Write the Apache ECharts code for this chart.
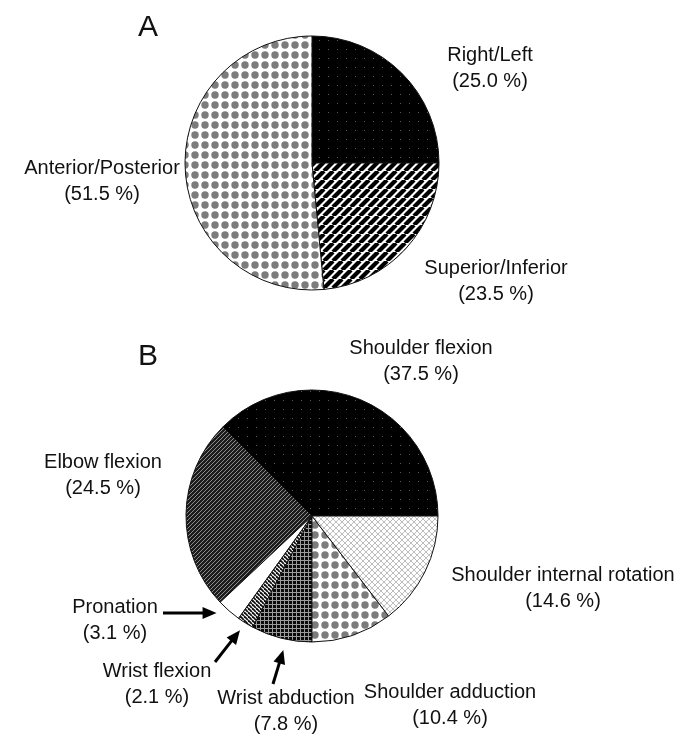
<!DOCTYPE html>
<html>
<head>
<meta charset="utf-8">
<script src="https://cdn.jsdelivr.net/npm/echarts@6/dist/echarts.min.js"></script>
<style>
  html, body { margin: 0; padding: 0; background: #fff; }
  #chart { width: 676px; height: 734px; }
</style>
</head>
<body>
<div id="chart"></div>
<script>
// panel A: direction of movement
var dirNames  = ['Right/Left', 'Superior/Inferior', 'Anterior/Posterior'];
var dirValues = [25.0, 23.5, 51.5];

// panel B: joint motion
var jointNames  = ['Shoulder flexion', 'Elbow flexion', 'Pronation', 'Wrist flexion',
                   'Wrist abduction', 'Shoulder adduction', 'Shoulder internal rotation'];
var jointValues = [37.5, 24.5, 3.1, 2.1, 7.8, 10.4, 14.6];

(function () {
    var FONT = '"Liberation Sans", Arial, Helvetica, sans-serif';

    function tile(w, h, draw) {
        var c = document.createElement('canvas');
        c.width = w; c.height = h;
        draw(c.getContext('2d'), w, h);
        return { image: c, repeat: 'repeat' };
    }
    function diag(g, s, up) {
        for (var k = -s; k <= s; k += s) {
            g.beginPath();
            if (up) { g.moveTo(k, s); g.lineTo(k + s, 0); }
            else    { g.moveTo(k, 0); g.lineTo(k + s, s); }
            g.stroke();
        }
    }

    var pat = {
        darkDots: tile(9, 9, function (g) {
            g.fillStyle = '#000'; g.fillRect(0, 0, 9, 9);
            g.fillStyle = '#5a5a5a'; g.fillRect(4, 4, 1, 1);
        }),
        stripes: tile(9, 9, function (g, s) {
            g.fillStyle = '#fff'; g.fillRect(0, 0, s, s);
            g.strokeStyle = '#000'; g.lineWidth = 4.2; diag(g, s, true);
        }),
        grayDots: tile(10, 10, function (g) {
            g.fillStyle = '#fff'; g.fillRect(0, 0, 10, 10);
            g.fillStyle = '#7c7c7c';
            g.beginPath(); g.arc(5, 5, 3.7, 0, Math.PI * 2); g.fill();
        }),
        hatch: tile(4, 4, function (g, s) {
            g.fillStyle = '#1c1c1c'; g.fillRect(0, 0, s, s);
            g.strokeStyle = '#9a9a9a'; g.lineWidth = 0.9; diag(g, s, true);
        }),
        white: '#ffffff',
        fineStripes: tile(4, 4, function (g, s) {
            g.fillStyle = '#fff'; g.fillRect(0, 0, s, s);
            g.strokeStyle = '#111'; g.lineWidth = 1.8; diag(g, s, false);
        }),
        grid: tile(4, 4, function (g) {
            g.fillStyle = '#0a0a0a'; g.fillRect(0, 0, 4, 4);
            g.fillStyle = '#9c9c9c'; g.fillRect(0, 0, 4, 1); g.fillRect(0, 0, 1, 4);
        }),
        lightCross: tile(6, 6, function (g, s) {
            g.fillStyle = '#fff'; g.fillRect(0, 0, s, s);
            g.strokeStyle = '#a0a0a0'; g.lineWidth = 0.7;
            diag(g, s, true); diag(g, s, false);
        })
    };

    var dirFills   = [pat.darkDots, pat.stripes, pat.grayDots];
    var jointFills = [pat.darkDots, pat.hatch, pat.white, pat.fineStripes,
                      pat.grid, pat.grayDots, pat.lightCross];

    // label anchors (centre of the two-line block)
    var dirLabelPos   = [[490, 68], [496, 281], [102, 181]];
    var jointLabelPos = [[421, 361], [103, 475], [115, 620], [157, 684],
                         [286, 711], [450, 705], [563, 588]];

    var pieA = { c: [312, 163], r: 127 };
    var pieB = { c: [312, 516], r: 126 };

    function fmt(p) { return p.name + '\n(' + p.value.toFixed(1) + ' %)'; }

    function pieSeries(geo, names, values, fills, pos, startAngle, clockwise) {
        return {
            type: 'pie',
            center: geo.c,
            radius: geo.r,
            startAngle: startAngle,
            clockwise: clockwise,
            animation: false,
            silent: true,
            data: names.map(function (n, i) {
                return { name: n, value: values[i], itemStyle: { color: fills[i] } };
            }),
            itemStyle: { borderColor: '#111', borderWidth: 1 },
            label: {
                show: true,
                formatter: fmt,
                color: '#111',
                fontFamily: FONT,
                fontSize: 20,
                lineHeight: 26,
                align: 'center',
                overflow: 'none'
            },
            labelLine: { show: false },
            labelLayout: function (p) {
                var q = pos[p.dataIndex];
                return { x: q[0], y: q[1], align: 'center', verticalAlign: 'middle' };
            }
        };
    }

    // arrows pointing at the three thin slices of panel B
    function sliceAngle(idx, frac) {
        var total = jointValues.reduce(function (a, b) { return a + b; }, 0);
        var before = 0;
        for (var i = 0; i < idx; i++) before += jointValues[i];
        return (before + jointValues[idx] * frac) / total * 360; // counter-clockwise from 3 o'clock
    }
    function arrow(idx, frac, gap, tail) {
        var a = sliceAngle(idx, frac) * Math.PI / 180;
        var R = pieB.r + gap;
        var tip = [pieB.c[0] + R * Math.cos(a), pieB.c[1] - R * Math.sin(a)];
        var dx = tip[0] - tail[0], dy = tip[1] - tail[1];
        var len = Math.sqrt(dx * dx + dy * dy), ux = dx / len, uy = dy / len;
        var hl = 14, hw = 6;
        var base = [tip[0] - ux * hl, tip[1] - uy * hl];
        return [{
            type: 'line',
            shape: { x1: tail[0], y1: tail[1], x2: base[0] + ux, y2: base[1] + uy },
            style: { stroke: '#000', lineWidth: 3 }
        }, {
            type: 'polygon',
            shape: { points: [tip, [base[0] - uy * hw, base[1] + ux * hw], [base[0] + uy * hw, base[1] - ux * hw]] },
            style: { fill: '#000' }
        }];
    }

    var chart = echarts.init(document.getElementById('chart'), null, { renderer: 'canvas' });
    chart.setOption({
        backgroundColor: '#ffffff',
        animation: false,
        title: [
            { text: 'A', left: 133, top: 8, textStyle: { fontFamily: FONT, fontSize: 30, fontWeight: 'normal', color: '#111' } },
            { text: 'B', left: 133, top: 337, textStyle: { fontFamily: FONT, fontSize: 30, fontWeight: 'normal', color: '#111' } }
        ],
        series: [
            pieSeries(pieA, dirNames, dirValues, dirFills, dirLabelPos, 90, true),
            pieSeries(pieB, jointNames, jointValues, jointFills, jointLabelPos, 0, false)
        ],
        graphic: [].concat(
            arrow(2, 0.2, 10, [163, 613]),
            arrow(3, 0.45, 9, [215, 662]),
            arrow(4, 0.57, 11, [273, 684])
        )
    });
})();
</script>
</body>
</html>
